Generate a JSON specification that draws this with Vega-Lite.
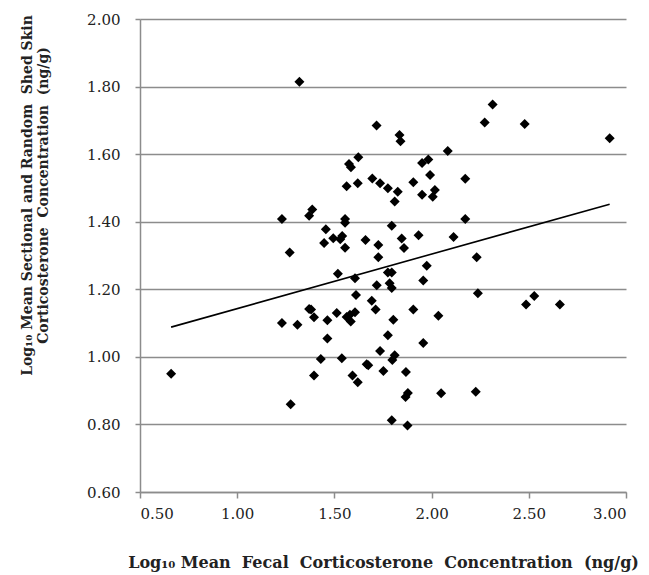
{
  "$schema": "https://vega.github.io/schema/vega-lite/v6.json",
  "width": 486,
  "height": 473,
  "autosize": {"type": "none"},
  "padding": {"left": 140, "top": 19, "right": 23, "bottom": 83},
  "background": "white",
  "config": {"view": {"stroke": null}},
  "datasets": {
    "pts": [
      {"x": 0.66, "y": 0.95}, {"x": 1.23, "y": 1.408}, {"x": 1.23, "y": 1.10}, {"x": 1.27, "y": 1.309},
      {"x": 1.275, "y": 0.86}, {"x": 1.31, "y": 1.095}, {"x": 1.32, "y": 1.814}, {"x": 1.37, "y": 1.418},
      {"x": 1.386, "y": 1.436}, {"x": 1.37, "y": 1.142}, {"x": 1.38, "y": 1.14}, {"x": 1.395, "y": 1.117},
      {"x": 1.395, "y": 0.945}, {"x": 1.43, "y": 0.994}, {"x": 1.447, "y": 1.337}, {"x": 1.456, "y": 1.378},
      {"x": 1.464, "y": 1.108}, {"x": 1.464, "y": 1.054}, {"x": 1.494, "y": 1.351}, {"x": 1.512, "y": 1.13},
      {"x": 1.518, "y": 1.246}, {"x": 1.53, "y": 1.348}, {"x": 1.54, "y": 1.358}, {"x": 1.538, "y": 0.996},
      {"x": 1.555, "y": 1.408}, {"x": 1.555, "y": 1.397}, {"x": 1.555, "y": 1.323}, {"x": 1.563, "y": 1.505},
      {"x": 1.563, "y": 1.118}, {"x": 1.575, "y": 1.571}, {"x": 1.58, "y": 1.125}, {"x": 1.584, "y": 1.105},
      {"x": 1.585, "y": 1.561}, {"x": 1.593, "y": 0.945}, {"x": 1.606, "y": 1.132}, {"x": 1.606, "y": 1.233},
      {"x": 1.611, "y": 1.183}, {"x": 1.62, "y": 1.514}, {"x": 1.62, "y": 0.925}, {"x": 1.623, "y": 1.591},
      {"x": 1.66, "y": 1.346}, {"x": 1.666, "y": 0.978}, {"x": 1.674, "y": 0.975}, {"x": 1.692, "y": 1.166},
      {"x": 1.695, "y": 1.528}, {"x": 1.712, "y": 1.14}, {"x": 1.717, "y": 1.685}, {"x": 1.718, "y": 1.212},
      {"x": 1.726, "y": 1.331}, {"x": 1.726, "y": 1.295}, {"x": 1.735, "y": 1.514}, {"x": 1.735, "y": 1.017},
      {"x": 1.752, "y": 0.958}, {"x": 1.775, "y": 1.499}, {"x": 1.775, "y": 1.064}, {"x": 1.775, "y": 1.25},
      {"x": 1.795, "y": 1.25}, {"x": 1.784, "y": 1.218}, {"x": 1.795, "y": 1.204}, {"x": 1.795, "y": 1.388},
      {"x": 1.803, "y": 1.11}, {"x": 1.81, "y": 1.46}, {"x": 1.81, "y": 1.005}, {"x": 1.798, "y": 0.991},
      {"x": 1.826, "y": 1.489}, {"x": 1.795, "y": 0.812}, {"x": 1.835, "y": 1.657}, {"x": 1.84, "y": 1.638},
      {"x": 1.846, "y": 1.35}, {"x": 1.858, "y": 1.322}, {"x": 1.868, "y": 0.955}, {"x": 1.878, "y": 0.893},
      {"x": 1.866, "y": 0.881}, {"x": 1.876, "y": 0.797}, {"x": 1.906, "y": 1.517}, {"x": 1.906, "y": 1.14},
      {"x": 1.933, "y": 1.36}, {"x": 1.951, "y": 1.574}, {"x": 1.951, "y": 1.48}, {"x": 1.957, "y": 1.226},
      {"x": 1.957, "y": 1.041}, {"x": 1.975, "y": 1.27}, {"x": 1.983, "y": 1.584}, {"x": 1.992, "y": 1.538},
      {"x": 2.006, "y": 1.474}, {"x": 2.017, "y": 1.494}, {"x": 2.035, "y": 1.122}, {"x": 2.049, "y": 0.892},
      {"x": 2.083, "y": 1.609}, {"x": 2.113, "y": 1.355}, {"x": 2.173, "y": 1.527}, {"x": 2.173, "y": 1.408},
      {"x": 2.227, "y": 0.897}, {"x": 2.232, "y": 1.295}, {"x": 2.238, "y": 1.188}, {"x": 2.273, "y": 1.694},
      {"x": 2.314, "y": 1.747}, {"x": 2.479, "y": 1.689}, {"x": 2.486, "y": 1.155}, {"x": 2.528, "y": 1.18},
      {"x": 2.66, "y": 1.155}, {"x": 2.916, "y": 1.647}
    ],
    "trend": [
      {"x": 0.66, "y": 1.088},
      {"x": 2.916, "y": 1.452}
    ]
  },
  "layer": [
    {
      "data": {"name": "pts"},
      "mark": {"type": "point", "shape": "diamond", "filled": true, "color": "black", "size": 100, "opacity": 1},
      "encoding": {
        "x": {
          "field": "x", "type": "quantitative",
          "scale": {"domain": [0.5, 3.0], "nice": false, "zero": false},
          "axis": {
            "values": [0.5, 1.0, 1.5, 2.0, 2.5, 3.0], "format": ".2f", "grid": false,
            "domainColor": "#8c8c8c", "domainWidth": 1.5, "tickColor": "#8c8c8c", "tickWidth": 1.5, "tickSize": 6,
            "labelFont": "DejaVu Serif", "labelFontSize": 15, "labelColor": "#222", "labelPadding": 8,
            "title": "Log₁₀ Mean \u00a0Fecal \u00a0Corticosterone \u00a0Concentration \u00a0(ng/g)",
            "titleFont": "DejaVu Serif", "titleFontSize": 16, "titleFontWeight": "bold", "titleColor": "#222",
            "titlePadding": 33
          }
        },
        "y": {
          "field": "y", "type": "quantitative",
          "scale": {"domain": [0.6, 2.0], "nice": false, "zero": false},
          "axis": {
            "values": [0.6, 0.8, 1.0, 1.2, 1.4, 1.6, 1.8, 2.0], "format": ".2f", "grid": true,
            "gridColor": "#8c8c8c", "gridWidth": 1.5,
            "domainColor": "#8c8c8c", "domainWidth": 1.5, "tickColor": "#8c8c8c", "tickWidth": 1.5, "tickSize": 5,
            "labelFont": "DejaVu Serif", "labelFontSize": 15, "labelColor": "#222", "labelPadding": 15,
            "title": ["Log₁₀ Mean Sectional and Random \u00a0Shed Skin", "Corticosterone \u00a0Concentration \u00a0(ng/g)"],
            "titleFont": "DejaVu Serif", "titleFontSize": 14, "titleFontWeight": "bold", "titleColor": "#222",
            "titleAngle": -90, "titleX": -113, "titleY": 176, "titleAlign": "center", "titleBaseline": "middle",
            "titleLineHeight": 16
          }
        }
      }
    },
    {
      "data": {"name": "trend"},
      "mark": {"type": "line", "color": "black", "strokeWidth": 1.6},
      "encoding": {
        "x": {"field": "x", "type": "quantitative"},
        "y": {"field": "y", "type": "quantitative"}
      }
    }
  ]
}
